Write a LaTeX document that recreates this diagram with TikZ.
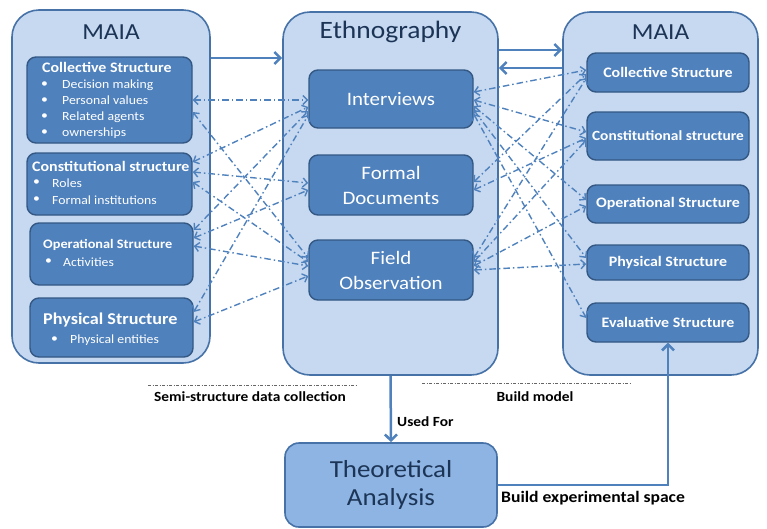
\documentclass[tikz,border=0pt]{standalone}
\usepackage{fontspec}
\setmainfont{Carlito}[FakeStretch=1.1]
\usetikzlibrary{arrows.meta,calc}
\definecolor{contfill}{RGB}{198,217,241}
\definecolor{contdraw}{RGB}{70,114,168}
\definecolor{boxfill}{RGB}{79,129,189}
\definecolor{boxdraw}{RGB}{52,88,132}
\definecolor{theofill}{RGB}{141,180,226}
\definecolor{titlecol}{RGB}{28,52,86}
\definecolor{linecol}{RGB}{79,129,189}
\newcommand\mybul[5]{%
  \node[itm,anchor=west] (#1b) at (#2,#4) {\textbullet};
  \node[itm,anchor=west] (#1) at (#3,#4) {#5};}
\begin{document}
\begin{tikzpicture}[x=1pt,y=-1pt,
  container/.style={draw=contdraw,line width=1.6pt,fill=contfill,rounded corners=27pt,inner sep=0pt},
  ibox/.style={draw=boxdraw,line width=1.4pt,fill=boxfill,rounded corners=9pt,inner sep=0pt,text=white},
  theo/.style={draw=contdraw,line width=1.6pt,fill=theofill,rounded corners=14pt,inner sep=0pt,text=titlecol,align=center,font=\fontsize{24.5}{28}\selectfont},
  ttl/.style={text=titlecol,inner sep=0pt,font=\fontsize{23}{26}\selectfont},
  hd/.style={text=white,inner sep=0pt,font=\bfseries\fontsize{14.5}{16}\selectfont},
  itm/.style={text=white,inner sep=0pt,font=\fontsize{12.5}{14}\selectfont},
  rtx/.style={text=white,font=\bfseries\fontsize{14.5}{16}\selectfont},
  etx/.style={text=white,align=center,font=\fontsize{19}{25}\selectfont},
  lbl/.style={text=black,inner sep=0pt,font=\bfseries\fontsize{14}{16}\selectfont},
  mesh/.style={draw=linecol,line width=1.4pt,dash pattern=on 6.5pt off 3pt on 1.5pt off 3pt,
    {Straight Barb[length=4.5pt,width=9pt]}-{Straight Barb[length=4.5pt,width=9pt]}},
  bigarrow/.style={draw=linecol,line width=2.5pt,-{Straight Barb[length=6pt,width=12pt]}},
  uline/.style={draw=black!60,line width=0.8pt,dash pattern=on 3pt off 1.5pt on 1pt off 1.5pt}]
\useasboundingbox (0,0) rectangle (767,528);
% containers
\node[container,minimum width=198pt,minimum height=353pt] (L) at (111,186.5) {};
\node[container,minimum width=215pt,minimum height=363pt] (E) at (390.5,193.5) {};
\node[container,minimum width=195pt,minimum height=363pt] (R) at (660.5,193.5) {};
\node[ttl] (Lt) at (111,32) {MAIA};
\node[ttl,font=\fontsize{25}{28}\selectfont] (Et) at (390.5,32) {Ethnography};
\node[ttl] (Rt) at (660.5,32) {MAIA};
% left boxes
\node[ibox,minimum width=165pt,minimum height=86pt] (lcol) at (109.5,100) {};
\node[ibox,minimum width=165pt,minimum height=62pt] (lcon) at (109.5,184) {};
\node[ibox,minimum width=163pt,minimum height=62pt] (lop) at (111.5,254) {};
\node[ibox,minimum width=163pt,minimum height=59pt] (lph) at (111.5,327.5) {};
\node[hd,anchor=west] (lcolt) at (42,67) {Collective Structure};
\mybul{lcol1}{41}{62}{85}{Decision making}
\mybul{lcol2}{41}{62}{100.5}{Personal values}
\mybul{lcol3}{41}{62}{117}{Related agents}
\mybul{lcol4}{41}{62}{133}{ownerships}
\node[hd,anchor=west] (lcont) at (32,166) {Constitutional structure};
\mybul{lcon1}{33}{52}{183}{Roles}
\mybul{lcon2}{33}{52}{200}{Formal institutions}
\node[hd,anchor=west,font=\bfseries\fontsize{13}{15}\selectfont] (lopt) at (43,245) {Operational Structure};
\mybul{lop1}{45}{63}{262}{Activities}
\node[hd,anchor=west,font=\bfseries\fontsize{16.5}{18}\selectfont] (lpht) at (43,320) {Physical Structure};
\mybul{lph1}{51}{70}{340}{Physical entities}
% ethnography boxes
\node[ibox,etx,minimum width=164pt,minimum height=58pt] (eint) at (391,99) {Interviews};
\node[ibox,etx,minimum width=164pt,minimum height=60pt] (efor) at (391,185) {Formal\\Documents};
\node[ibox,etx,minimum width=164pt,minimum height=60pt] (efie) at (391,270) {Field\\Observation};
% right boxes
\node[ibox,rtx,minimum width=162pt,minimum height=39pt] (rcol) at (668,72.5) {Collective Structure};
\node[ibox,rtx,minimum width=162pt,minimum height=48pt,font=\bfseries\fontsize{14}{16}\selectfont] (rcon) at (668,136) {Constitutional structure};
\node[ibox,rtx,minimum width=162pt,minimum height=38pt] (rop) at (668,204) {Operational Structure};
\node[ibox,rtx,minimum width=162pt,minimum height=35pt] (rph) at (668,262.5) {Physical Structure};
\node[ibox,rtx,minimum width=162pt,minimum height=39pt] (rev) at (668,322.5) {Evaluative Structure};
% theoretical analysis
\node[theo,minimum width=212pt,minimum height=84pt] (T) at (391,485) {Theoretical\\Analysis};
% solid arrows
\draw[bigarrow] ([yshift=128.5pt]L.east) -- ([yshift=135.5pt]E.west);
\draw[bigarrow] ([yshift=143.5pt]E.east) -- ([yshift=143.5pt]R.west);
\draw[bigarrow] ([yshift=125.5pt]R.west) -- ([yshift=125.5pt]E.east);
\draw[bigarrow] (E.south) -- (T.north);
\draw[bigarrow] (T.east) -| (rev.south);
% left mesh
\draw[mesh] ([yshift=0pt]lcol.east) -- ([yshift=-1pt]eint.west);
\draw[mesh] ([yshift=-12pt]lcol.east) -- ([yshift=12pt]efie.west);
\draw[mesh] ([yshift=22pt]lcon.east) -- ([yshift=-8pt]eint.west);
\draw[mesh] ([yshift=12pt]lcon.east) -- ([yshift=2pt]efor.west);
\draw[mesh] ([yshift=2pt]lcon.east) -- ([yshift=8pt]efie.west);
\draw[mesh] ([yshift=24pt]lop.east) -- ([yshift=-12pt]eint.west);
\draw[mesh] ([yshift=16pt]lop.east) -- ([yshift=-5pt]efor.west);
\draw[mesh] ([yshift=8pt]lop.east) -- ([yshift=4pt]efie.west);
\draw[mesh] ([yshift=15.5pt]lph.east) -- ([yshift=-16pt]eint.west);
\draw[mesh] ([yshift=5.5pt]lph.east) -- ([yshift=-6pt]efie.west);
% right mesh
\draw[mesh] ([yshift=7pt]eint.east) -- ([yshift=2.5pt]rcol.west);
\draw[mesh] ([yshift=-1pt]eint.east) -- ([yshift=4pt]rcon.west);
\draw[mesh] ([yshift=-7pt]eint.east) -- ([yshift=4pt]rop.west);
\draw[mesh] ([yshift=-11pt]eint.east) -- ([yshift=4.5pt]rph.west);
\draw[mesh] ([yshift=-15pt]eint.east) -- ([yshift=4.5pt]rev.west);
\draw[mesh] ([yshift=3pt]efor.east) -- ([yshift=-1.5pt]rcol.west);
\draw[mesh] ([yshift=-5pt]efor.east) -- ([yshift=-2pt]rcon.west);
\draw[mesh] ([yshift=12pt]efie.east) -- ([yshift=-5.5pt]rcol.west);
\draw[mesh] ([yshift=8pt]efie.east) -- ([yshift=-4pt]rcon.west);
\draw[mesh] ([yshift=4pt]efie.east) -- ([yshift=-2pt]rop.west);
\draw[mesh] ([yshift=0pt]efie.east) -- ([yshift=-1.5pt]rph.west);
% labels
\coordinate (ula) at (148,385);
\coordinate (ulb) at (357,385);
\coordinate (ura) at (422,383);
\coordinate (urb) at (630,383);
\draw[uline] (ula) -- (ulb);
\draw[uline] (ura) -- (urb);
\node[lbl] (semi) at (250,397) {Semi-structure data collection};
\node[lbl] (bmod) at (535,397) {Build model};
\node[lbl,anchor=west] (used) at (397,422) {Used For};
\node[lbl,anchor=west,font=\bfseries\fontsize{16}{18}\selectfont] (bexp) at (501,498) {Build experimental space};
\end{tikzpicture}
\end{document}
